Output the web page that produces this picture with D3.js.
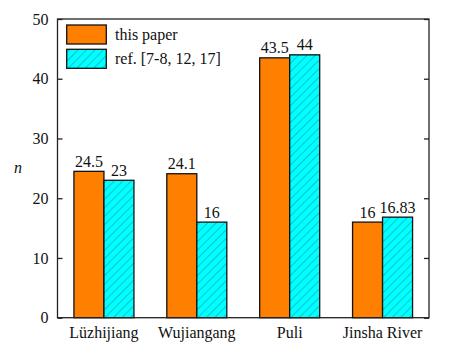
<!DOCTYPE html>
<html><head><meta charset="utf-8">
<script src="https://cdn.jsdelivr.net/npm/d3@7"></script>
<style>body{margin:0;background:#fff}svg{display:block}</style>
</head><body>
<script>
const categories = ["Lüzhijiang", "Wujiangang", "Puli", "Jinsha River"];
const seriesNames = ["this paper", "ref. [7-8, 12, 17]"];
const thisPaper = [24.5, 24.1, 43.5, 16];
const refValues = [23, 16, 44, 16.83];
const thisLabels = ["24.5", "24.1", "43.5", "16"];
const refLabels = ["23", "16", "44", "16.83"];
const yTicks = [0, 10, 20, 30, 40, 50];

const FF = "Liberation Serif";
const FS = 16;
const W = 468, H = 353;
const m = {left: 57.5, right: 39, top: 19, bottom: 35.3};
const svg = d3.select("body").append("svg").attr("width", W).attr("height", H).attr("font-family", FF);
const defs = svg.append("defs");
const pat = defs.append("pattern").attr("id","hatch").attr("patternUnits","userSpaceOnUse")
  .attr("width",6).attr("height",6).attr("patternTransform","rotate(45)");
pat.append("rect").attr("width",6).attr("height",6).attr("fill","#00FFFF");
pat.append("line").attr("x1",0).attr("y1",0).attr("x2",0).attr("y2",6).attr("stroke","#1a6a8a").attr("stroke-width",0.8);

const x = d3.scaleBand().domain(categories).range([m.left, W - m.right]).paddingInner(0.354).paddingOuter(0.177);
const xs = d3.scaleBand().domain([0,1]).range([0, x.bandwidth()]);
const y = d3.scaleLinear().domain([0, 50]).range([H - m.bottom, m.top]);

const data = categories.map((c,i)=>({c, vals:[thisPaper[i], refValues[i]], labs:[thisLabels[i], refLabels[i]]}));
const g = svg.selectAll("g.grp").data(data).join("g").attr("transform", d=>`translate(${x(d.c)},0)`);
g.selectAll("rect").data(d=>d.vals.map((v,k)=>({v,k}))).join("rect")
  .attr("x", d=>xs(d.k)).attr("width", xs.bandwidth())
  .attr("y", d=>y(d.v)).attr("height", d=>y(0)-y(d.v))
  .attr("fill", d=>d.k===0?"#FF8000":"url(#hatch)")
  .attr("stroke","#111").attr("stroke-width",1.3);
g.selectAll("text.val").data(d=>d.vals.map((v,k)=>({v,k,l:d.labs[k]}))).join("text")
  .attr("class","val").attr("x", d=>xs(d.k)+xs.bandwidth()/2).attr("y", d=>y(d.v)-4.5)
  .attr("text-anchor","middle").attr("font-size",FS).attr("font-family",FF).attr("fill","#111").text(d=>d.l);

// frame
const x0 = m.left, x1 = W - m.right, y0 = m.top, y1 = H - m.bottom;
svg.append("rect").attr("x",x0).attr("y",y0).attr("width",x1-x0).attr("height",y1-y0)
  .attr("fill","none").attr("stroke","#222").attr("stroke-width",1.3);

// y axis
const yl = svg.append("g").attr("transform",`translate(${x0},0)`)
  .call(d3.axisLeft(y).tickValues(yTicks).tickSize(-5).tickPadding(9).tickFormat(d3.format("d")));
yl.attr("font-family", FF).attr("font-size", FS);
yl.select(".domain").remove();
yl.selectAll("line").attr("stroke","#222").attr("stroke-width",1.3);
yl.selectAll("text").attr("font-size",FS).attr("font-family",FF).attr("fill","#111");
const yr = svg.append("g").attr("transform",`translate(${x1},0)`)
  .call(d3.axisRight(y).tickValues(yTicks).tickSize(-5).tickFormat(""));
yr.select(".domain").remove();
yr.selectAll("line").attr("stroke","#222").attr("stroke-width",1.3);

// x axis labels
const xa = svg.append("g").attr("transform",`translate(0,${y1})`)
  .call(d3.axisBottom(x).tickSize(0).tickPadding(9));
xa.attr("font-family", FF).attr("font-size", FS);
xa.select(".domain").remove();
xa.selectAll("text").attr("font-size",FS).attr("font-family",FF).attr("fill","#111");

// y title
svg.append("text").attr("x",18).attr("y",173).attr("font-size",FS).attr("font-family",FF).attr("font-style","italic")
  .attr("text-anchor","middle").attr("fill","#111").text("n");

// legend
const lg = svg.append("g");
[0,1].forEach(k=>{
  const ly = 25 + k*24.3;
  lg.append("rect").attr("x",66.7).attr("y",ly).attr("width",39.6).attr("height",19)
    .attr("fill", k===0?"#FF8000":"url(#hatch)").attr("stroke","#111").attr("stroke-width",1.3);
  lg.append("text").attr("x",115).attr("y",ly+14.5).attr("font-size",FS).attr("font-family",FF).attr("fill","#111").text(seriesNames[k]);
});
</script>
</body></html>
